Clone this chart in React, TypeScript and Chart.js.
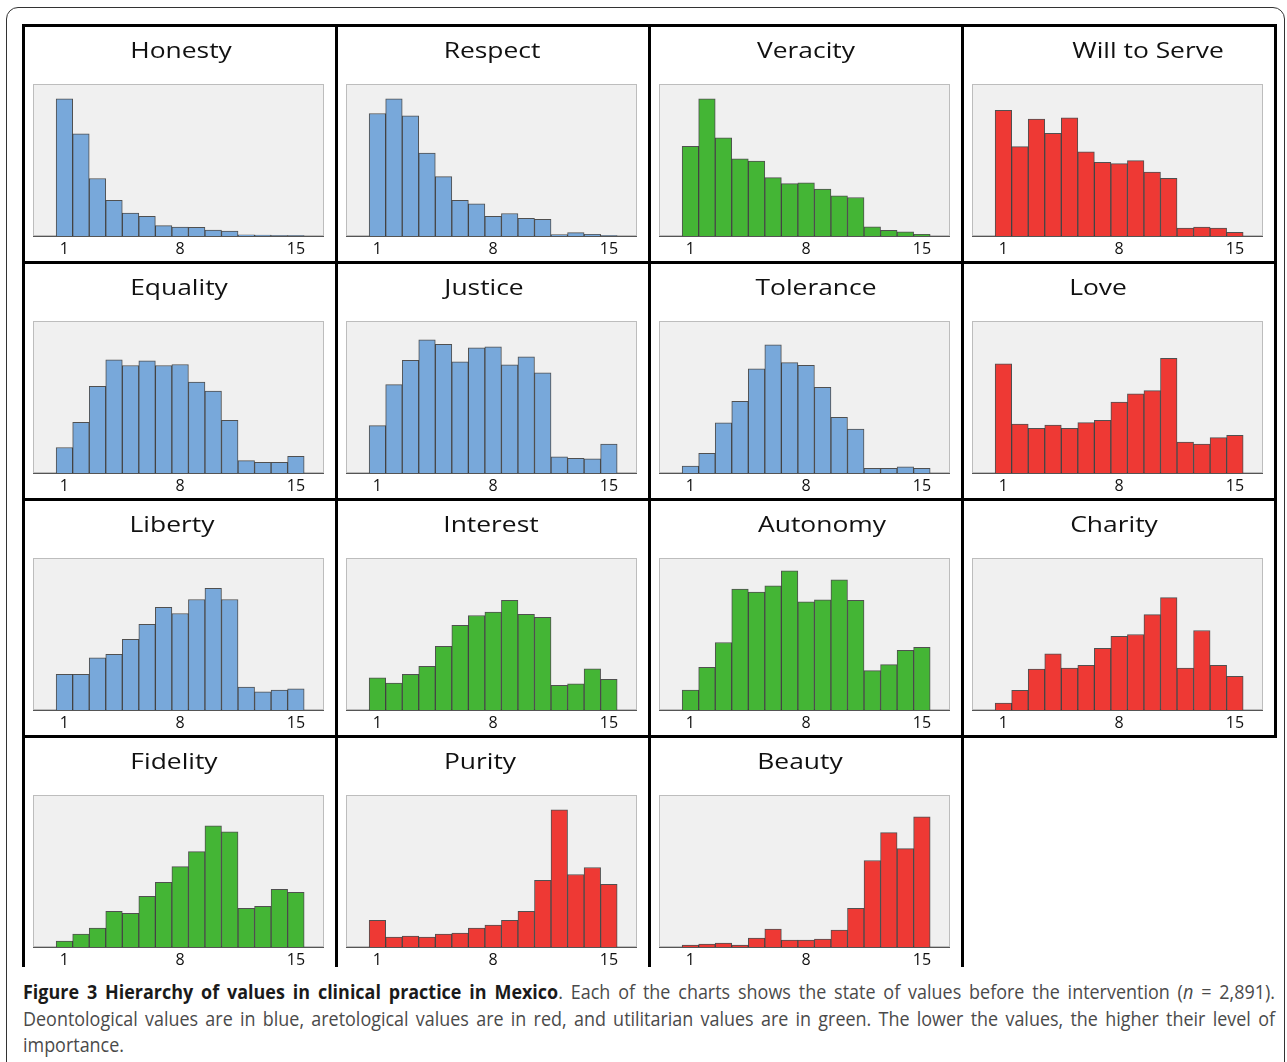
import React, { useEffect, useRef } from "react";
import { Chart, registerables } from "chart.js";

Chart.register(...registerables);

// ---------- data ----------
const ranks = [1, 2, 3, 4, 5, 6, 7, 8, 9, 10, 11, 12, 13, 14, 15];
const tickValues = [1, 8, 15];

const honesty = [90.2, 67.2, 37.8, 23.4, 15.1, 12.9, 6.8, 5.9, 5.7, 3.9, 3.3, 0.8, 0.6, 0.2, 0.2];
const respect = [80.6, 90.2, 79.0, 54.6, 39.1, 23.4, 21.2, 12.9, 14.8, 11.6, 10.9, 0.9, 2.2, 1.1, 0.3];
const veracity = [59.0, 90.2, 64.6, 50.7, 49.3, 38.4, 34.5, 34.9, 30.8, 26.4, 25.3, 6.1, 3.7, 2.8, 1.1];
const willToServe = [82.6, 58.8, 76.9, 67.5, 77.8, 55.4, 48.4, 47.6, 49.6, 42.1, 38.0, 5.2, 5.9, 5.2, 2.4];
const equality = [16.8, 33.4, 57.0, 74.5, 70.7, 73.8, 70.7, 71.4, 59.8, 53.9, 34.7, 8.1, 7.0, 7.0, 10.9];
const justice = [31.2, 58.1, 74.2, 87.6, 84.7, 73.1, 82.3, 83.0, 71.2, 76.4, 65.9, 10.7, 9.6, 9.4, 19.0];
const tolerance = [4.6, 13.0, 33.0, 47.2, 68.5, 84.3, 72.6, 70.9, 56.3, 36.7, 28.9, 3.0, 3.0, 4.1, 3.0];
const love = [71.9, 32.2, 29.4, 31.6, 29.4, 33.1, 34.6, 46.6, 52.1, 54.2, 75.4, 20.3, 19.0, 23.3, 24.8];
const liberty = [23.4, 23.4, 34.3, 36.7, 46.5, 56.3, 67.5, 63.5, 72.7, 80.1, 72.7, 15.1, 12.0, 13.1, 14.0];
const interest = [21.2, 17.7, 23.4, 28.8, 41.9, 55.7, 62.2, 64.4, 72.1, 62.9, 60.9, 16.2, 17.2, 27.1, 20.1];
const autonomy = [13.1, 28.1, 44.4, 79.5, 77.6, 81.7, 91.5, 71.2, 72.5, 85.6, 72.1, 25.9, 29.8, 39.2, 41.2];
const charity = [4.6, 13.0, 27.0, 37.0, 27.5, 29.4, 40.5, 48.4, 49.7, 62.7, 73.9, 27.5, 52.3, 29.4, 22.2];
const fidelity = [3.9, 8.5, 12.4, 23.5, 22.2, 33.3, 42.5, 52.9, 62.7, 79.7, 75.8, 25.5, 26.8, 37.9, 35.9];
const purity = [17.6, 6.5, 7.2, 6.5, 8.5, 9.2, 12.4, 14.4, 17.6, 23.5, 43.8, 90.2, 47.7, 52.3, 41.2];
const beauty = [1.3, 2.0, 2.6, 1.3, 5.9, 11.8, 4.6, 4.6, 5.2, 11.1, 25.5, 56.9, 75.2, 64.7, 85.6];

const titles = [
  "Honesty", "Respect", "Veracity", "Will to Serve",
  "Equality", "Justice", "Tolerance", "Love",
  "Liberty", "Interest", "Autonomy", "Charity",
  "Fidelity", "Purity", "Beauty",
];
const series = [
  honesty, respect, veracity, willToServe,
  equality, justice, tolerance, love,
  liberty, interest, autonomy, charity,
  fidelity, purity, beauty,
];
// d = deontological (blue), a = aretological (red), u = utilitarian (green)
const kinds = ["d", "d", "u", "a", "d", "d", "d", "a", "d", "u", "u", "a", "u", "a", "a"];

// ---------- styling ----------
const kindColor: Record<string, string> = { d: "#78a8da", a: "#ee3934", u: "#44b535" };
const titleShift = [1, -1, 0, 29, -1, -9, 10, -21, -8, -2, 16, -5, -6, -13, -6];

const plotBg = {
  id: "plotBg",
  beforeDraw(chart: any) {
    const { ctx, chartArea } = chart;
    const { left, top, right, bottom } = chartArea;
    ctx.save();
    ctx.fillStyle = "#f0f0f0";
    ctx.fillRect(left, top, right - left, bottom - top);
    ctx.strokeStyle = "#bdbdbd";
    ctx.lineWidth = 1;
    ctx.strokeRect(left + 0.5, top + 0.5, right - left - 1, bottom - top - 1);
    ctx.restore();
  },
};

function Histogram({ values, color, left, top }: { values: number[]; color: string; left: number; top: number }) {
  const ref = useRef<HTMLCanvasElement>(null);
  useEffect(() => {
    const chart = new Chart(ref.current as HTMLCanvasElement, {
      type: "bar",
      data: {
        datasets: [
          {
            data: ranks.map((r, i) => ({ x: r, y: values[i] })),
            backgroundColor: color,
            borderColor: "rgba(40,40,40,0.8)",
            borderWidth: 1,
            barPercentage: 1,
            categoryPercentage: 1,
          } as any,
        ],
      },
      options: {
        animation: false,
        responsive: false,
        events: [],
        layout: { padding: 0 },
        plugins: { legend: { display: false }, tooltip: { enabled: false } },
        scales: {
          x: {
            type: "linear",
            offset: false,
            min: -0.9,
            max: 16.7,
            grid: { display: false, drawTicks: false, offset: false },
            border: { display: true, color: "#555", width: 1 },
            afterBuildTicks: (s: any) => {
              s.ticks = tickValues.map((v) => ({ value: v }));
            },
            afterFit: (s: any) => {
              s.height = 24;
            },
            ticks: {
              autoSkip: false,
              maxRotation: 0,
              padding: 4,
              color: "#111",
              font: { family: "'Open Sans'", size: 16 },
              callback: (v: any) => String(v),
            },
          },
          y: { display: false, min: 0, max: 100 },
        },
      } as any,
      plugins: [plotBg],
    });
    return () => chart.destroy();
  }, [values, color]);
  return (
    <canvas
      ref={ref}
      width={291}
      height={176}
      style={{ position: "absolute", left, top, width: 291, height: 176 }}
    />
  );
}

export default function App() {
  const colStep = 313;
  const rowStep = 237;
  const gridLeft = 22;
  const gridTop = 24;

  const panels = titles.map((t, i) => {
    const r = Math.floor(i / 4);
    const c = i % 4;
    return { t, i, L: gridLeft + c * colStep, T: gridTop + r * rowStep };
  });

  const capScale = 0.92;

  return (
    <div
      style={{
        position: "absolute",
        left: 0,
        top: 0,
        width: 1287,
        height: 1062,
        overflow: "hidden",
        background: "#fff",
      }}
    >
      <div
        style={{
          position: "absolute",
          left: 6,
          top: 7,
          width: 1279,
          height: 1120,
          border: "1.5px solid #333",
          borderRadius: 12,
          boxSizing: "border-box",
        }}
      />
      <div style={{ position: "absolute", left: 0, top: 0, width: 1287, height: 967, overflow: "hidden" }}>
        {panels.map((p) => (
          <Histogram
            key={"c" + p.i}
            values={series[p.i]}
            color={kindColor[kinds[p.i]]}
            left={p.L + 11}
            top={p.T + 60}
          />
        ))}
        {panels.map((p) => (
          <div
            key={"b" + p.i}
            style={{
              position: "absolute",
              left: p.L,
              top: p.T,
              width: 316,
              height: 240,
              border: "3px solid #000",
              boxSizing: "border-box",
            }}
          />
        ))}
        {panels.map((p) => (
          <div
            key={"t" + p.i}
            style={{
              position: "absolute",
              left: p.L + 3 + titleShift[p.i],
              top: p.T + 10,
              width: 310,
              textAlign: "center",
              fontFamily: "'Open Sans', sans-serif",
              fontSize: 22,
              lineHeight: "30px",
              color: "#111",
              transform: "scaleX(1.2)",
              whiteSpace: "nowrap",
            }}
          >
            {p.t}
          </div>
        ))}
      </div>
      <div
        style={{
          position: "absolute",
          left: 23,
          top: 979,
          width: 1252 / capScale,
          transform: `scaleX(${capScale})`,
          transformOrigin: "0 0",
          fontFamily: "'Open Sans', sans-serif",
          fontSize: 19.5,
          lineHeight: "26.5px",
          color: "#4a4a4a",
        }}
      >
        <div style={{ textAlign: "justify", textAlignLast: "justify" }}>
          <b style={{ color: "#1a1a1a" }}>Figure 3 Hierarchy of values in clinical practice in Mexico</b>. Each of the
          charts shows the state of values before the intervention (<i>n</i> = 2,891).
        </div>
        <div style={{ textAlign: "justify", textAlignLast: "justify" }}>
          Deontological values are in blue, aretological values are in red, and utilitarian values are in green. The
          lower the values, the higher their level of
        </div>
        <div>importance.</div>
      </div>
    </div>
  );
}
